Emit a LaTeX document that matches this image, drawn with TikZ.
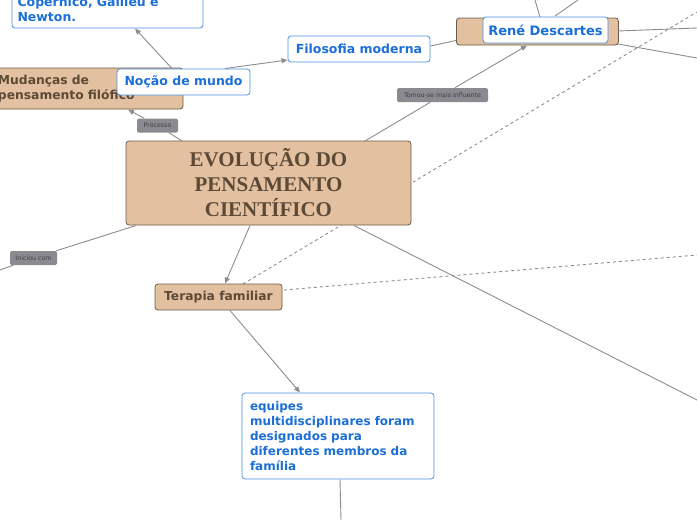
\documentclass[tikz,border=0pt]{standalone}
\usepackage{fontspec}
\setmainfont{DejaVu Sans}
\newfontfamily\titlefont{Liberation Serif}
\usetikzlibrary{arrows.meta}
\definecolor{brownfill}{HTML}{E2C0A0}
\definecolor{browndraw}{HTML}{6B5A48}
\definecolor{browntext}{HTML}{5C4A36}
\definecolor{bluedraw}{HTML}{4A90E2}
\definecolor{bluetext}{HTML}{1C6FD8}
\definecolor{linec}{HTML}{8C8C8C}
\definecolor{labfill}{HTML}{8A8A90}
\tikzset{
 topic/.style={draw=browndraw,fill=brownfill,rounded corners=3pt,line width=0.8pt,text=browntext,font=\bfseries\fontsize{12.3}{15}\selectfont,inner sep=0pt},
 sub/.style={draw=bluedraw,fill=white,rounded corners=3pt,line width=0.8pt,text=bluetext,font=\bfseries\fontsize{12.5}{15}\selectfont,inner sep=0pt},
 lab/.style={fill=labfill,rounded corners=1.5pt,text=black!75,font=\fontsize{6.3}{7}\selectfont,inner sep=0pt,minimum height=14pt},
 conn/.style={draw=linec,line width=0.9pt},
 arr/.style={conn,-{Triangle[length=6pt,width=5pt]}},
 dashln/.style={draw=linec,line width=0.9pt,dash pattern=on 3pt off 3pt}
}
\begin{document}
\begin{tikzpicture}[x=1pt,y=-1pt]
\useasboundingbox (0,0) rectangle (697,520);
\coordinate (tr) at (697,12);
\coordinate (r1) at (697,255);
\coordinate (r2) at (697,400);
\coordinate (l1) at (0,270);
\coordinate (b1) at (341,520);
\coordinate (pr1) at (697,28);
\coordinate (pr2) at (697,58);
\coordinate (t1) at (535,0);
\coordinate (t2) at (578,0);
\coordinate (tpa) at (243,284);
\draw[dashln] (tpa) -- (tr);
% nodes
\node[topic,minimum width=285pt,minimum height=84pt,align=center,font=\titlefont\bfseries\fontsize{21}{25}\selectfont] (title) at (268.5,183) {EVOLUÇÃO DO\\PENSAMENTO\\CIENTÍFICO};
\node[topic,minimum width=188pt,minimum height=41pt,align=left,text width=182pt] (mud) at (89,88.5) {Mudanças de\\pensamento filófico};
\node[topic,minimum width=127pt,minimum height=26pt] (ter) at (218.5,297) {Terapia familiar};
\node[topic,minimum width=162pt,minimum height=27pt,anchor=west,font=\bfseries\fontsize{14}{16}\selectfont] (pa) at (456,31.5) {\hspace{8pt}Pa\hspace{130pt}};
\node[sub,minimum width=133pt,minimum height=26pt] (noc) at (183.5,82) {Noção de mundo};
\node[sub,minimum width=191pt,minimum height=38pt,align=left,text width=180pt] (cop) at (107.5,9) {Copernico, Galileu e\\Newton.};
\node[sub,minimum width=142pt,minimum height=26pt] (fil) at (359,49) {Filosofia moderna};
\node[sub,minimum width=125pt,minimum height=26pt,font=\bfseries\fontsize{13}{15}\selectfont] (ren) at (545.5,30) {René Descartes};
\node[sub,minimum width=192pt,minimum height=86pt,align=left,text width=176pt,font=\bfseries\fontsize{12}{15}\selectfont] (eq) at (338,436) {equipes\\multidisciplinares foram\\designados para\\diferentes membros da\\família};
% labels
\node[lab,minimum width=41pt] (lp) at (157.5,125.5) {Processo};
\node[lab,minimum width=91pt] (lt) at (442.5,95) {Tomou-se mais influente};
\node[lab,minimum width=47pt] (li) at (33.5,258) {Iniciou com};
% connectors
\draw[conn] (182,141) -- (lp);
\draw[arr] (lp) -- (128,109.5);
\draw[arr] (172,68.5) -- (135,28.5);
\draw[arr] (225,68.5) -- (287.5,60);
\draw[conn] (430.5,46) -- (456,40.5);
\draw[conn] (365,141) -- (lt);
\draw[arr] (lt) -- (527,45.5);
\draw[conn] (136,225.5) -- (li);
\draw[conn] (li) -- (l1);
\draw[arr] (250,225.5) -- (225,283.5);
\draw[conn] (354,225.5) -- (r2);
\draw[dashln] (284,290) -- (r1);
\draw[conn] (618,31) -- (pr1);
\draw[conn] (618,44) -- (pr2);
\draw[conn] (540,17) -- (t1);
\draw[conn] (555,16) -- (t2);
\draw[arr] (230,310.5) -- (300,392.5);
\draw[conn] (340,479.5) -- (b1);
\end{tikzpicture}
\end{document}
